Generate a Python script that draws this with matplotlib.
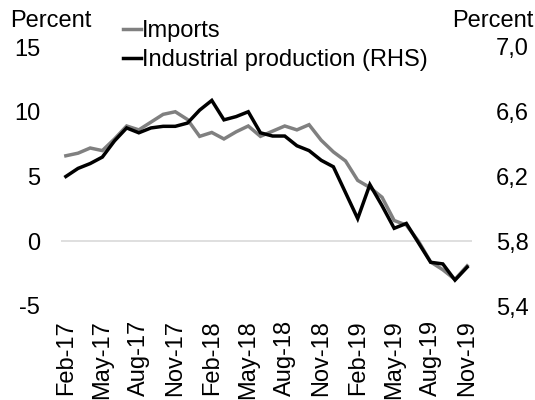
import matplotlib
matplotlib.use("Agg")
import matplotlib.pyplot as plt
import numpy as np
from matplotlib.lines import Line2D

plt.rcParams["font.family"] = ["Liberation Sans", "DejaVu Sans"]
plt.rcParams["axes.unicode_minus"] = False

# monthly, Feb-17 .. Nov-19
imports = [6.6, 6.8, 7.2, 7.0, 7.9, 8.9, 8.6, 9.2, 9.8, 10.0, 9.4, 8.1,
           8.4, 7.9, 8.45, 8.9, 8.1, 8.5, 8.9, 8.6, 9.0, 7.8, 6.9, 6.2,
           4.7, 4.15, 3.4, 1.6, 1.25, 0.0, -1.6, -2.2, -2.95, -1.9]
ind_prod = [6.20, 6.25, 6.28, 6.32, 6.42, 6.50, 6.47, 6.50, 6.51, 6.51, 6.53, 6.61,
            6.67, 6.55, 6.57, 6.60, 6.47, 6.45, 6.45, 6.39, 6.36, 6.30, 6.26, 6.10,
            5.94, 6.15, 6.02, 5.88, 5.91, 5.79, 5.67, 5.66, 5.56, 5.64]
tick_labels = ["Feb-17", "May-17", "Aug-17", "Nov-17", "Feb-18", "May-18",
               "Aug-18", "Nov-18", "Feb-19", "May-19", "Aug-19", "Nov-19"]
left_ticks = [-5, 0, 5, 10, 15]
right_ticks = [5.4, 5.8, 6.2, 6.6, 7.0]

FS = 17
GRAY = "#808080"

fig = plt.figure(figsize=(5.35, 4.0), dpi=100)
ax = fig.add_axes([61 / 535, 1 - 306 / 400, 411 / 535, 259 / 400])
ax2 = ax.twinx()

x = np.arange(len(imports))
ax.axhline(0, color="#d9d9d9", lw=1.2, zorder=0)
ax.plot(x, imports, color=GRAY, lw=2.5, solid_joinstyle="miter")
ax2.plot(x, ind_prod, color="black", lw=2.5, solid_joinstyle="miter")

ax.set_xlim(-0.4, len(imports) - 1 + 0.4)
ax.set_ylim(-5, 15)
ax2.set_ylim(5.4, 7.0)

ax.set_xticks(x[::3])
ax.set_xticklabels(tick_labels, rotation=90, fontsize=FS)
ax.set_yticks(left_ticks)
ax.set_yticklabels([str(v) for v in left_ticks], fontsize=FS)
ax2.set_yticks(right_ticks)
ax2.set_yticklabels([f"{v:.1f}".replace(".", ",") for v in right_ticks], fontsize=FS)

ax.tick_params(axis="x", length=0, pad=10)
ax.tick_params(axis="y", length=0, pad=15)
ax2.tick_params(axis="y", length=0, pad=17)
for a in (ax, ax2):
    for s in a.spines.values():
        s.set_visible(False)

fig.text(10 / 535, 1 - 10 / 400, "Percent", fontsize=FS, ha="left", va="top")
fig.text(533 / 535, 1 - 10 / 400, "Percent", fontsize=FS, ha="right", va="top")

handles = [Line2D([], [], color=GRAY, lw=2.5), Line2D([], [], color="black", lw=2.5)]
fig.legend(handles, ["Imports", "Industrial production (RHS)"], loc="upper left",
           bbox_to_anchor=(123 / 535, 1 - 20 / 400), frameon=False, fontsize=FS,
           handlelength=0.75, handletextpad=0.05, labelspacing=0.3, borderpad=0,
           borderaxespad=0)

fig.savefig("out.png", dpi=100)
